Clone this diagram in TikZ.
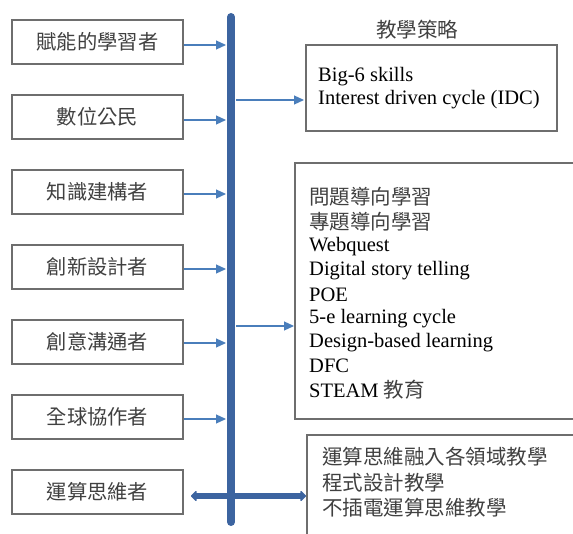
\documentclass[tikz,border=0pt]{standalone}
\usepackage{fontspec}
\setmainfont{Liberation Serif}
\newfontfamily\cjk{Noto Sans CJK TC}
\usetikzlibrary{arrows.meta}
\definecolor{barblue}{HTML}{3C64A0}
\definecolor{arrblue}{HTML}{4A7EBB}
\definecolor{boxgray}{HTML}{6E6E6E}
\definecolor{txtgray}{HTML}{404040}
\begin{document}
\begin{tikzpicture}[x=1pt,y=-1pt,
  leftbox/.style={draw=boxgray,line width=1.2pt,minimum width=171pt,minimum height=44pt,inner sep=0pt,
    font=\cjk\fontsize{20.3}{22}\selectfont,text=txtgray},
  thinarrow/.style={draw=arrblue,line width=1.2pt,-{Triangle[length=10pt,width=9pt]}},
  rbox/.style={draw=boxgray,line width=1.1pt},
  rtext/.style={anchor=west,inner sep=0pt,font=\fontsize{20.5}{24}\selectfont,text=black},
  ctext/.style={anchor=west,inner sep=0pt,font=\cjk\fontsize{20.5}{24}\selectfont,text=txtgray}]
\useasboundingbox (0,0) rectangle (573,534);
% left boxes
\node[leftbox] (b1) at (97.5,42) {賦能的學習者};
\node[leftbox] (b2) at (97.5,117) {數位公民};
\node[leftbox] (b3) at (97.5,192) {知識建構者};
\node[leftbox] (b4) at (97.5,267) {創新設計者};
\node[leftbox] (b5) at (97.5,342) {創意溝通者};
\node[leftbox] (b6) at (97.5,417) {全球協作者};
\node[leftbox] (b7) at (97.5,492) {運算思維者};
% vertical bar
\coordinate (bt) at (231,17);
\coordinate (bb) at (231,522);
\draw[barblue,line width=8pt,line cap=round] (bt) -- (bb);
% arrows into bar
\foreach \i/\y in {1/45,2/120,3/194,4/269,5/343,6/419}{
  \coordinate (t\i) at (226,\y);
  \draw[thinarrow] (b\i.east |- t\i) -- (t\i);
}
% right boxes
\node[font=\cjk\fontsize{20.5}{22}\selectfont,text=txtgray] (title) at (417,30) {教學策略};
\coordinate (r1a) at (306,45);
\coordinate (r1b) at (557,131);
\draw[rbox] (r1a) rectangle (r1b);
\node[rtext] (s1) at (318,77) {Big-6 skills};
\node[rtext] (s2) at (318,100) {Interest driven cycle (IDC)};
\coordinate (r2a) at (295,163);
\coordinate (r2b) at (580,419);
\draw[rbox] (r2a) rectangle (r2b);
\node[ctext] (p1) at (309,197) {問題導向學習};
\node[ctext] (p2) at (309,222) {專題導向學習};
\node[rtext] (p3) at (309,247) {Webquest};
\node[rtext] (p4) at (309,271) {Digital story telling};
\node[rtext] (p5) at (309,295) {POE};
\node[rtext] (p6) at (309,319) {5-e learning cycle};
\node[rtext] (p7) at (309,343) {Design-based learning};
\node[rtext] (p8) at (309,366) {DFC};
\node[rtext] (p9) at (309,390) {STEAM {\cjk\fontsize{20.5}{24}\selectfont\color{txtgray}教育}};
\coordinate (r3a) at (307,540);
\coordinate (r3b) at (307,435);
\coordinate (r3c) at (580,435);
\draw[rbox] (r3a) -- (r3b) -- (r3c);
\node[ctext] (q1) at (322,457) {運算思維融入各領域教學};
\node[ctext] (q2) at (322,483) {程式設計教學};
\node[ctext] (q3) at (322,508) {不插電運算思維教學};
% arrows out of bar
\coordinate (o1s) at (236,100);
\coordinate (o1e) at (304,100);
\draw[thinarrow] (o1s) -- (o1e);
\coordinate (o2s) at (236,326);
\coordinate (o2e) at (294,326);
\draw[thinarrow] (o2s) -- (o2e);
% double arrow
\coordinate (dl) at (191,496);
\coordinate (dr) at (306,496);
\draw[barblue,line width=5.5pt,{Triangle[length=6pt,width=12pt,round]}-{Triangle[length=6pt,width=12pt,round]}] (dl) -- (dr);
\end{tikzpicture}
\end{document}
